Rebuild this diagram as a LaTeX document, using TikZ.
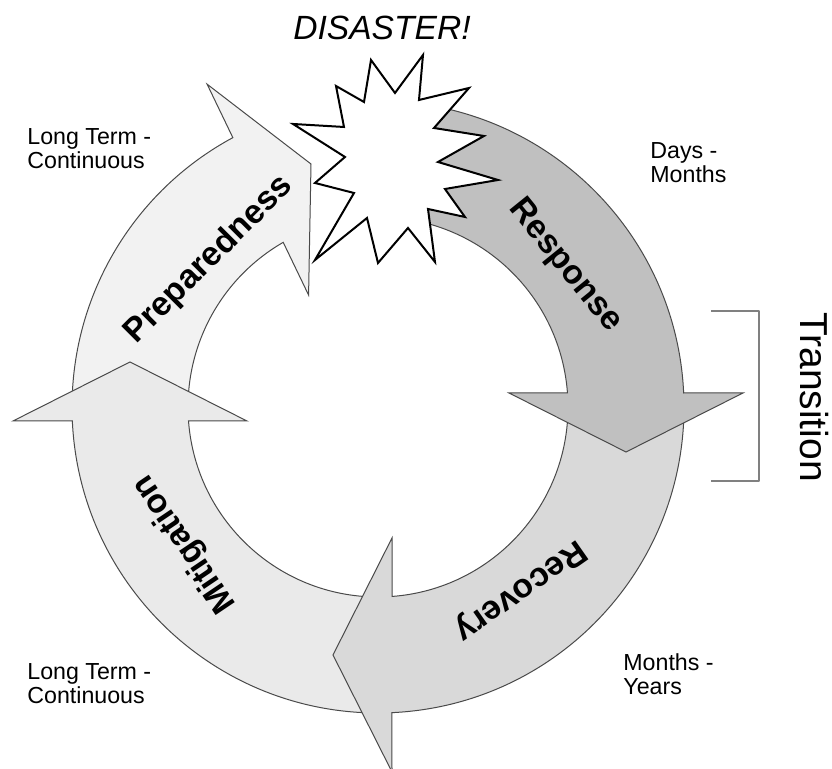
\documentclass[tikz,border=0pt]{standalone}
\usepackage{fontspec}
\setmainfont{Liberation Sans}
\usetikzlibrary{calc}
\definecolor{PrepFill}{HTML}{F2F2F2}
\definecolor{MitiFill}{HTML}{EAEAEA}
\definecolor{RecoFill}{HTML}{D9D9D9}
\definecolor{RespFill}{HTML}{C0C0C0}
\definecolor{Rim}{HTML}{4A4A4A}
\definecolor{BracketInk}{HTML}{808080}
\tikzset{
  ring arrow/.style={draw=Rim,line width=0.5pt,line join=miter},
  phase label/.style={inner sep=0pt,font=\bfseries\fontsize{16.8}{16.8}\selectfont},
  time label/.style={anchor=north west,inner sep=0pt,align=left,font=\fontsize{11.6}{12.3}\selectfont},
  burst/.style={draw=black,fill=white,line width=1pt,line join=miter},
  bracket line/.style={draw=BracketInk,line width=0.75pt,line cap=butt}
}
% one ring segment: fill, turn of its head, start angle in the turned frame
\newcommand{\RingArrow}[3]{%
  \begin{scope}[shift={(C)},rotate=#2]
    \filldraw[ring arrow,fill=#1] (#3:306) arc[start angle=#3,end angle=2.62,radius=306]
      -- (365,14) -- (248,-45) -- (131,14)
      -- (4.23:190) arc[start angle=4.23,end angle=#3,radius=190] -- cycle;
  \end{scope}
}

\begin{document}
\begin{tikzpicture}[x=0.5pt,y=0.5pt,line cap=round,line join=round]
  \fill[white] (0,0) rectangle (832,769);
  \useasboundingbox (0,0) rectangle (832,769);
  \coordinate (C) at (378,362);

  % ring segments, each head lies over the tail of the next
  \RingArrow{PrepFill}{115.7}{64.3}
  \RingArrow{MitiFill}{-180}{90}
  \RingArrow{RecoFill}{-90}{90}
  \RingArrow{RespFill}{0}{85}

  % burst
  \filldraw[burst] (371,709) -- (395,676) -- (423,714) -- (419,669) -- (469,681) -- (434,641)
    -- (484,633) -- (438,607) -- (498,589) -- (445,580) -- (465,552) -- (428,560)
    -- (435,507) -- (408,541) -- (378,506) -- (367,551) -- (315,509) -- (354,576)
    -- (315,586) -- (345,612) -- (293,645) -- (344,642) -- (336,683) -- (364,667) -- cycle;
  \node[anchor=base, inner sep=0pt, font=\itshape\fontsize{16.8}{16.8}\selectfont] (disaster) at (382,729) {DISASTER!};

  % phase names
  \node[phase label, rotate=45] (prep) at (209,509) {Preparedness};
  \node[phase label, rotate=-51] (resp) at (565,503) {Response};
  \node[phase label, rotate=-145] (reco) at (520,179) {Recovery};
  \node[phase label, rotate=124] (miti) at (185,225) {Mitigation};

  % time spans
  \node[time label] (spanprep) at (27,641) {Long Term -\\Continuous};
  \node[time label] (spanresp) at (650,627) {Days -\\Months};
  \node[time label] (spanreco) at (623,116) {Months -\\Years};
  \node[time label] (spanmiti) at (27,106) {Long Term -\\Continuous};

  % transition bracket
  \coordinate (brtop) at (711,458);
  \coordinate (brbot) at (711,288);
  \draw[bracket line] (brtop) -- ++(48,0) |- (brbot);
  \node[rotate=-90, inner sep=0pt, font=\fontsize{19.5}{19.5}\selectfont] (transition) at (814,372) {Transition};
\end{tikzpicture}
\end{document}
